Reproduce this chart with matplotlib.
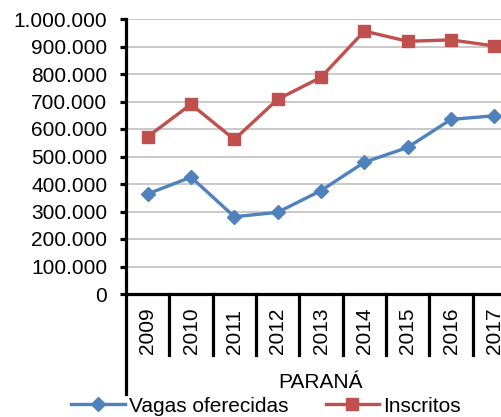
import matplotlib
matplotlib.use("Agg")
import matplotlib.pyplot as plt
from matplotlib.ticker import FuncFormatter, MultipleLocator
from matplotlib.lines import Line2D
import matplotlib.transforms as mtransforms

plt.rcParams['font.family'] = ['Liberation Sans', 'DejaVu Sans']

# Data
years = ['2009', '2010', '2011', '2012', '2013', '2014', '2015', '2016', '2017']
vagas = [364000, 425000, 281000, 297000, 376000, 479000, 533000, 635000, 648000]
inscritos = [572000, 690000, 562000, 708000, 788000, 956000, 919000, 924000, 902000]
group_label = 'PARANÁ'

blue = '#4F81BD'
red = '#C0504D'

fig = plt.figure(figsize=(5.01, 4.17), dpi=100)
# axes run past the right edge like in the original
ax = fig.add_axes([126 / 501, 123 / 417, 390 / 501, 275 / 417])

x = list(range(len(years)))
ax.plot(x, vagas, color=blue, lw=2.4, marker='D', ms=6.8, label='Vagas oferecidas', clip_on=False, zorder=3)
ax.plot(x, inscritos, color=red, lw=2.4, marker='s', ms=8.3, label='Inscritos', clip_on=False, zorder=3)

ax.set_xlim(-0.5, len(years) - 0.5)
ax.set_ylim(0, 1000000)
ax.yaxis.set_major_locator(MultipleLocator(100000))
ax.yaxis.set_major_formatter(FuncFormatter(lambda v, p: f'{int(v):,}'.replace(',', '.')))
ax.grid(axis='y', color='#c0c0c0', lw=1.2)
ax.set_axisbelow(True)

for s in ['top', 'right', 'left']:
    ax.spines[s].set_visible(False)
ax.spines['bottom'].set_linewidth(2.3)
ax.tick_params(axis='y', direction='out', length=4.5, width=2.3, labelsize=15, pad=9)

ax.set_xticks([])

# category axis: year labels, separators and group label
trans = mtransforms.blended_transform_factory(ax.transData, ax.transAxes)
for i, yr in enumerate(years):
    ax.text(i, -0.135, yr, rotation=90, ha='center', va='center', fontsize=15, transform=trans)
for i in range(len(years) - 1):
    ax.add_line(Line2D([i + 0.5, i + 0.5], [0, -0.222], color='black', lw=2.3,
                       transform=trans, clip_on=False))
ax.add_line(Line2D([0, 0], [1, -0.364], color='black', lw=2.3,
                   transform=ax.transAxes, clip_on=False))
ax.text(0.5, -0.32, group_label, ha='center', va='center', fontsize=15, transform=ax.transAxes)

fig.legend(loc='center', bbox_to_anchor=(266 / 501, 11 / 417), ncol=2, frameon=False,
           fontsize=15, handlelength=2.55, handletextpad=0.2, columnspacing=1.8,
           borderpad=0, borderaxespad=0)

fig.savefig('out.png', dpi=100)
